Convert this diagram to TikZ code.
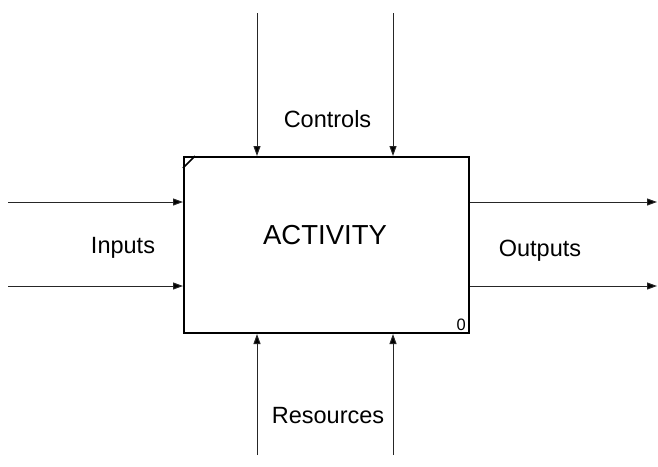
\documentclass[tikz,border=0pt]{standalone}
\usepackage{fontspec}
\setmainfont{Liberation Sans}
\usetikzlibrary{arrows.meta}
\begin{document}
\begin{tikzpicture}[x=1pt,y=-1pt,
  flow/.style={line width=1pt,draw=black!85,-{Triangle[length=10pt,width=7pt,fill=black]}},
  actbox/.style={draw,line width=2pt,rectangle,minimum width=285pt,minimum height=176pt,inner sep=0pt},
  lbl/.style={anchor=base,inner sep=0pt,font=\fontsize{23.5}{28}\selectfont}
]
\useasboundingbox (0,0) rectangle (658,466);

% activity box with its corner tick and number
\node[actbox] (act) at (326.5,245) {};
\draw[line width=1.6pt] ([yshift=-12pt]act.north west) -- ([xshift=12pt]act.north west);
\node[anchor=base,inner sep=0pt,font=\fontsize{27.5}{32}\selectfont] (title) at (325,244) {ACTIVITY};
\node[anchor=base east,inner sep=0pt,font=\fontsize{16.5}{20}\selectfont] (num) at (466,330) {0};

% free ends of the arrows
\coordinate (inA) at (8,202);
\coordinate (inB) at (8,286);
\coordinate (outA) at (657,202);
\coordinate (outB) at (657,286);
\coordinate (ctlA) at (257,13);
\coordinate (ctlB) at (393,13);
\coordinate (resA) at (257,455);
\coordinate (resB) at (393,455);

% inputs
\draw[flow] (inA) -- (inA -| act.west);
\draw[flow] (inB) -- (inB -| act.west);
% outputs
\draw[flow] (outA -| act.east) -- (outA);
\draw[flow] (outB -| act.east) -- (outB);
% controls
\draw[flow] (ctlA) -- (ctlA |- act.north);
\draw[flow] (ctlB) -- (ctlB |- act.north);
% resources
\draw[flow] (resA) -- (resA |- act.south);
\draw[flow] (resB) -- (resB |- act.south);

% labels
\node[lbl] (inputs) at (123,253) {Inputs};
\node[lbl] (outputs) at (540,256) {Outputs};
\node[lbl] (controls) at (327.5,127) {Controls};
\node[lbl] (resources) at (328,423) {Resources};
\end{tikzpicture}
\end{document}
